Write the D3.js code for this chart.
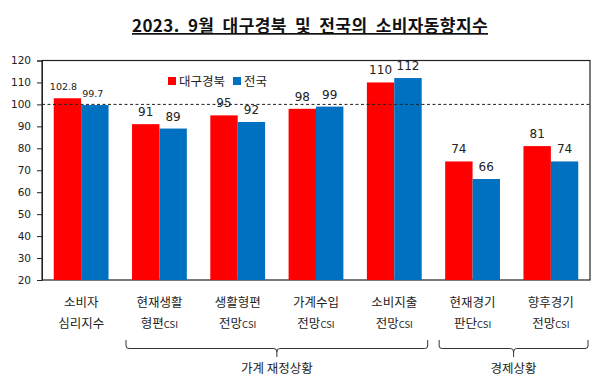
<!DOCTYPE html>
<html>
<head>
<meta charset="utf-8">
<script src="https://cdn.jsdelivr.net/npm/d3@7"></script>
<style>
  body { margin: 0; background: #fff; }
  text { font-family: "Noto Sans CJK KR", "Noto Sans", sans-serif; }
</style>
</head>
<body>
<svg class="chart" width="608" height="392"></svg>
<script>
// categories (two-line labels) and values
var cats = ['소비자|심리지수', '현재생활|형편CSI', '생활형편|전망CSI', '가계수입|전망CSI', '소비지출|전망CSI', '현재경기|판단CSI', '향후경기|전망CSI'];
var daegu = [102.8, 91, 95, 98, 110, 74, 81];
var national = [99.7, 89, 92, 99, 112, 66, 74];
var seriesNames = ['대구경북', '전국'];
var yTicks = [20, 30, 40, 50, 60, 70, 80, 90, 100, 110, 120];
var groups = [{name: '가계 재정상황', from: 1, to: 4}, {name: '경제상황', from: 5, to: 6}];

var colors = ['#ff0000', '#0070c0'];
var m = {left: 42, right: 590, top: 60.5, bottom: 280};

var svg = d3.select('.chart');

var x = d3.scaleBand().domain(d3.range(cats.length)).range([m.left, m.right]).paddingInner(0.3).paddingOuter(0.15);
var x1 = d3.scaleBand().domain([0, 1]).range([0, x.bandwidth()]);
var y = d3.scaleLinear().domain([20, 120]).range([m.bottom, m.top]);

// title
svg.append('text').attr('x', 310).attr('y', 32).attr('text-anchor', 'middle')
  .attr('font-size', 17).attr('font-weight', 'bold').attr('fill', '#111')
  .attr('text-decoration', 'underline')
  .attr('word-spacing', 4).attr('letter-spacing', 0.4)
  .style('font-family', '"Noto Sans CJK KR", serif')
  .text('2023. 9월 대구경북 및 전국의 소비자동향지수');

// plot frame
svg.append('rect').attr('x', m.left).attr('y', m.top).attr('width', m.right - m.left).attr('height', m.bottom - m.top)
  .attr('fill', 'none').attr('stroke', '#222').attr('stroke-width', 1.2);

// y axis
var yAxis = svg.append('g').attr('transform', 'translate(' + m.left + ',0)')
  .call(d3.axisLeft(y).tickValues(yTicks).tickSize(5).tickPadding(6));
yAxis.select('.domain').attr('stroke', '#222');
yAxis.selectAll('line').attr('stroke', '#222');
yAxis.selectAll('text').attr('fill', '#222').style('font-family', '"DejaVu Sans", sans-serif').attr('font-size', 10.5);

// bars
var data = cats.map(function(c, i) { return [daegu[i], national[i]]; });
var g = svg.selectAll('.grp').data(data).enter().append('g').attr('class', 'grp')
  .attr('transform', function(d, i) { return 'translate(' + x(i) + ',0)'; });
g.selectAll('rect').data(function(d) { return d; }).enter().append('rect')
  .attr('x', function(d, j) { return x1(j); })
  .attr('y', function(d) { return y(d); })
  .attr('width', x1.bandwidth())
  .attr('height', function(d) { return m.bottom - y(d); })
  .attr('fill', function(d, j) { return colors[j]; });

g.selectAll('.lbl').data(function(d, i) { return d.map(function(v) { return {v: v, first: i == 0}; }); })
  .enter().append('text').attr('class', 'lbl')
  .attr('x', function(d, j) { return x1(j) + x1.bandwidth() / 2 + (d.first ? (j == 0 ? -4 : -2) : 0); })
  .attr('y', function(d) { return y(d.v) - 8; })
  .attr('text-anchor', 'middle')
  .attr('font-size', function(d) { return d.first ? 9.5 : 12; })
  .attr('fill', '#222')
  .style('font-family', '"DejaVu Sans", sans-serif')
  .text(function(d) { return d.v; });

// reference line at 100
svg.append('line').attr('x1', m.left).attr('x2', m.right).attr('y1', y(100)).attr('y2', y(100))
  .attr('stroke', '#222').attr('stroke-width', 1).attr('stroke-dasharray', '3,2.5');

// legend
var leg = svg.append('g').attr('transform', 'translate(168,82)');
seriesNames.forEach(function(s, i) {
  var lx = i == 0 ? 0 : 65;
  leg.append('rect').attr('x', lx).attr('y', -5).attr('width', 8).attr('height', 8).attr('fill', colors[i]);
  leg.append('text').attr('x', lx + 11).attr('y', 3.5).attr('font-size', 12.5).attr('fill', '#222').text(s);
});

// category labels
cats.forEach(function(c, i) {
  var parts = c.split('|');
  var cx = x(i) + x.bandwidth() / 2;
  svg.append('text').attr('x', cx).attr('y', 307).attr('text-anchor', 'middle')
    .attr('font-size', 12.5).attr('fill', '#222').text(parts[0]);
  var t = svg.append('text').attr('x', cx).attr('y', 328).attr('text-anchor', 'middle')
    .attr('font-size', 12.5).attr('fill', '#222');
  var mm = parts[1].match(/^(.*?)(CSI)?$/);
  t.append('tspan').text(mm[1]);
  if (mm[2]) t.append('tspan').attr('font-size', 9.5).text(mm[2]);
});

// group brackets
groups.forEach(function(gr) {
  var x0 = x(gr.from) - 6, x2 = x(gr.to) + x.bandwidth() + 6;
  if (gr.to == cats.length - 1) x2 = m.right - 2;
  var cx = (x0 + x2) / 2;
  var p = d3.path();
  p.moveTo(x0, 340); p.lineTo(x0, 346); p.quadraticCurveTo(x0, 348.5, x0 + 3, 348.5);
  p.lineTo(cx - 3, 348.5); p.quadraticCurveTo(cx, 348.5, cx, 352); p.lineTo(cx, 357);
  p.moveTo(cx, 352); p.quadraticCurveTo(cx, 348.5, cx + 3, 348.5);
  p.lineTo(x2 - 3, 348.5); p.quadraticCurveTo(x2, 348.5, x2, 346); p.lineTo(x2, 340);
  svg.append('path').attr('d', p.toString()).attr('fill', 'none').attr('stroke', '#333').attr('stroke-width', 1);
  svg.append('text').attr('x', cx).attr('y', 373).attr('text-anchor', 'middle')
    .attr('font-size', 12.5).attr('fill', '#222').text(gr.name);
});
</script>
</body>
</html>
